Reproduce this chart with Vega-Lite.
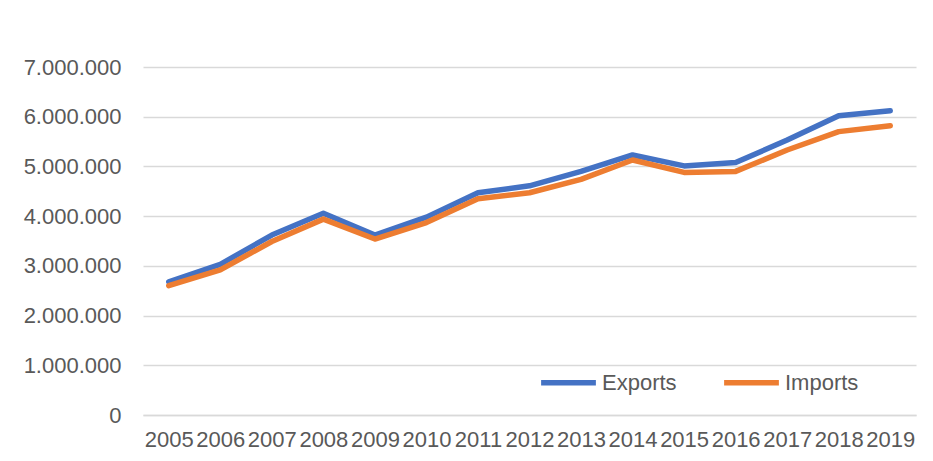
{
  "$schema": "https://vega.github.io/schema/vega-lite/v6.json",
  "autosize": "none",
  "width": 773,
  "height": 348,
  "padding": {"left": 143, "top": 67, "right": 17, "bottom": 46},
  "background": "white",
  "config": {
    "locale": {"number": {"decimal": ",", "thousands": ".", "grouping": [3], "currency": ["", ""]}},
    "view": {"stroke": null},
    "font": "Liberation Sans"
  },
  "data": {"values": [
    {"year": "2005", "series": "Exports", "value": 2680000},
    {"year": "2006", "series": "Exports", "value": 3030000},
    {"year": "2007", "series": "Exports", "value": 3620000},
    {"year": "2008", "series": "Exports", "value": 4060000},
    {"year": "2009", "series": "Exports", "value": 3620000},
    {"year": "2010", "series": "Exports", "value": 3980000},
    {"year": "2011", "series": "Exports", "value": 4470000},
    {"year": "2012", "series": "Exports", "value": 4610000},
    {"year": "2013", "series": "Exports", "value": 4900000},
    {"year": "2014", "series": "Exports", "value": 5230000},
    {"year": "2015", "series": "Exports", "value": 5010000},
    {"year": "2016", "series": "Exports", "value": 5080000},
    {"year": "2017", "series": "Exports", "value": 5530000},
    {"year": "2018", "series": "Exports", "value": 6020000},
    {"year": "2019", "series": "Exports", "value": 6120000},
    {"year": "2005", "series": "Imports", "value": 2600000},
    {"year": "2006", "series": "Imports", "value": 2920000},
    {"year": "2007", "series": "Imports", "value": 3490000},
    {"year": "2008", "series": "Imports", "value": 3940000},
    {"year": "2009", "series": "Imports", "value": 3540000},
    {"year": "2010", "series": "Imports", "value": 3870000},
    {"year": "2011", "series": "Imports", "value": 4350000},
    {"year": "2012", "series": "Imports", "value": 4470000},
    {"year": "2013", "series": "Imports", "value": 4740000},
    {"year": "2014", "series": "Imports", "value": 5130000},
    {"year": "2015", "series": "Imports", "value": 4880000},
    {"year": "2016", "series": "Imports", "value": 4900000},
    {"year": "2017", "series": "Imports", "value": 5330000},
    {"year": "2018", "series": "Imports", "value": 5700000},
    {"year": "2019", "series": "Imports", "value": 5820000}
  ]},
  "mark": {"type": "line", "strokeWidth": 5.5, "strokeCap": "round", "strokeJoin": "round"},
  "encoding": {
    "x": {
      "field": "year", "type": "ordinal",
      "scale": {"type": "point", "padding": 0.5},
      "axis": {"title": null, "labelAngle": 0, "labelFontSize": 22, "labelColor": "#595959", "labelOverlap": false, "labelPadding": 14, "ticks": false, "domain": true, "domainColor": "#D9D9D9", "domainWidth": 1.5, "grid": false}
    },
    "y": {
      "field": "value", "type": "quantitative",
      "scale": {"domain": [0, 7000000], "nice": false},
      "axis": {"title": null, "format": ",d", "values": [0, 1000000, 2000000, 3000000, 4000000, 5000000, 6000000, 7000000], "labelFontSize": 22, "labelColor": "#595959", "labelPadding": 22, "ticks": false, "domain": false, "gridColor": "#D9D9D9", "gridWidth": 1.5}
    },
    "color": {
      "field": "series", "type": "nominal",
      "scale": {"domain": ["Exports", "Imports"], "range": ["#4472C4", "#ED7D31"]},
      "legend": {"title": null, "orient": "none", "direction": "horizontal", "legendX": 395, "legendY": 285, "symbolType": "stroke", "symbolSize": 3000, "symbolStrokeWidth": 5.5, "labelFontSize": 22, "labelColor": "#595959", "labelOffset": 3, "columnPadding": 36, "labelLimit": 200}
    }
  }
}
